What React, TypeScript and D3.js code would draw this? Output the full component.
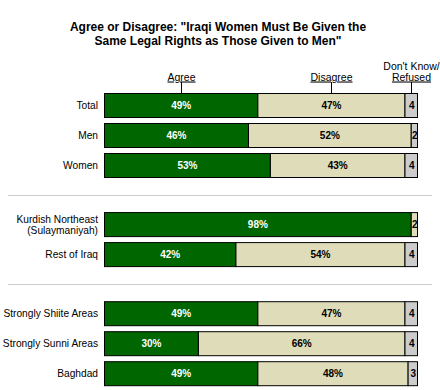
import React from "react";
import * as d3 from "d3";

const categories = [
  "Total",
  "Men",
  "Women",
  "Kurdish Northeast\n(Sulaymaniyah)",
  "Rest of Iraq",
  "Strongly Shiite Areas",
  "Strongly Sunni Areas",
  "Baghdad",
];
const groups = [0, 0, 0, 1, 1, 2, 2, 2];
const agree = [49, 46, 53, 98, 42, 49, 30, 49];
const disagree = [47, 52, 43, 2, 54, 47, 66, 48];
const dontKnow = [4, 2, 4, 0, 4, 4, 4, 3];
const seriesNames = ["Agree", "Disagree", "Don't Know/\nRefused"];
const colors = ["#006600", "#DEDCB9", "#CCCCCC"];
const titleLines = [
  'Agree or Disagree: "Iraqi Women Must Be Given the',
  'Same Legal Rights as Those Given to Men"',
];

const App = () => {
  const width = 440;
  const height = 390;
  const font = "'Liberation Sans', Arial, sans-serif";

  const x = d3.scaleLinear().domain([0, 100]).range([104.5, 417.5]);
  const groupGap = 0.97;
  // slot index -> top of bar
  const y = d3.scaleLinear().domain([0, 1]).range([93.5, 123.5]);
  const barH = 24;
  const slot = (i: number) => i + groups[i] * groupGap;

  const rows = categories.map((c, i) => {
    const vals = [agree[i], disagree[i], dontKnow[i]];
    let acc = 0;
    const segs = vals.map((v, k) => {
      const s = { x0: x(acc), x1: x(acc + v), v, k };
      acc += v;
      return s;
    });
    return { c, top: y(slot(i)), segs };
  });

  // separator lines between groups
  const seps = [2, 4].map((i) => (y(slot(i)) + barH + y(slot(i + 1))) / 2);

  const header = rows[0].segs;

  return (
    <svg width={width} height={height} style={{ position: "absolute", left: 0, top: 0, fontFamily: font }}>
      <rect width={width} height={height} fill="#fff" />
      {titleLines.map((t, i) => (
        <text key={i} x={218} y={31 + i * 14} textAnchor="middle" fontSize={12} fontWeight="bold" fill="#000">
          {t}
        </text>
      ))}
      {header.map((s, k) => {
        const cx = Math.round((s.x0 + s.x1) / 2) + 0.5;
        const lines = seriesNames[k].split("\n");
        return (
          <g key={k}>
            {lines.map((l, j) => (
              <text
                key={j}
                x={cx}
                y={80.5 - (lines.length - 1 - j) * 11}
                textAnchor="middle"
                fontSize={10.5}
                fill="#000"
                textDecoration={j === lines.length - 1 ? "underline" : undefined}
              >
                {l}
              </text>
            ))}
            <line x1={cx} x2={cx} y1={82} y2={93.5} stroke="#000" strokeWidth={1} />
          </g>
        );
      })}
      {seps.map((sy, i) => (
        <line key={i} x1={8} x2={432} y1={Math.round(sy) + 0.5} y2={Math.round(sy) + 0.5} stroke="#CCCCCC" strokeWidth={1} />
      ))}
      {rows.map((r, i) => {
        const cy = r.top + barH / 2;
        const lines = r.c.split("\n");
        return (
          <g key={i}>
            {lines.map((l, j) => (
              <text
                key={j}
                x={98}
                y={cy + (j - (lines.length - 1) / 2) * 11}
                dy="0.35em"
                textAnchor="end"
                fontSize={10.2}
                fill="#000"
              >
                {l}
              </text>
            ))}
            {r.segs
              .filter((s) => s.v > 0)
              .map((s) => (
                <rect
                  key={s.k}
                  x={s.x0}
                  y={r.top}
                  width={s.x1 - s.x0}
                  height={barH}
                  fill={colors[s.k]}
                  stroke="#000"
                  strokeWidth={1}
                />
              ))}
            {r.segs
              .filter((s) => s.v > 0)
              .map((s) => (
                <text
                  key={"t" + s.k}
                  x={(s.x0 + s.x1) / 2 + (s.v < 5 ? 0.5 : 0)}
                  y={cy}
                  dy="0.35em"
                  textAnchor="middle"
                  fontSize={10}
                  fontWeight="bold"
                  fill={s.k === 0 ? "#fff" : "#000"}
                >
                  {s.v < 5 ? `${s.v}` : `${s.v}%`}
                </text>
              ))}
          </g>
        );
      })}
    </svg>
  );
};

export default App;
